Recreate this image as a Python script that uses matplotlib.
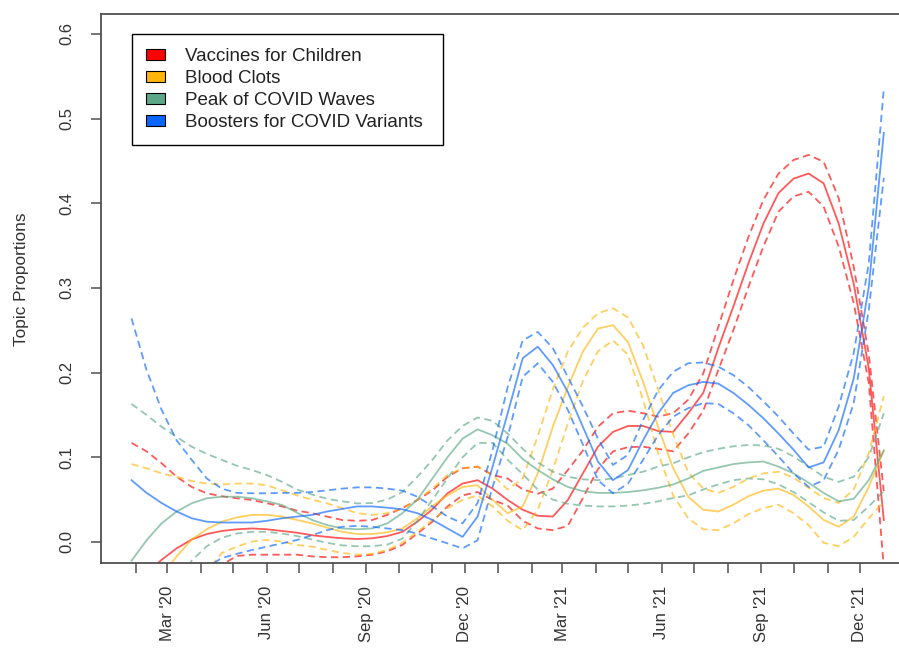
import matplotlib
matplotlib.use("Agg")
import matplotlib.pyplot as plt
import matplotlib.dates as mdates
from matplotlib.patches import Patch
import pandas as pd

plt.rcParams['font.family'] = ['Liberation Sans', 'DejaVu Sans']

# estimation dates (covariate grid)
dates = pd.date_range("2020-01-28", "2021-12-23", periods=51)

topic_names = ["Vaccines for Children", "Blood Clots",
               "Peak of COVID Waves", "Boosters for COVID Variants"]
topic_colors = ["#FF0000", "#FFB60A", "#5CA886", "#0A66FF"]

# Vaccines for Children
red_mean = [-0.055, -0.037, -0.021, -0.0075, 0.003, 0.0094, 0.013, 0.015, 0.016, 0.015,
            0.013, 0.011, 0.008, 0.006, 0.0044, 0.0035, 0.0044, 0.007, 0.012, 0.024,
            0.0386, 0.0575, 0.069, 0.073, 0.063, 0.0496, 0.038, 0.031, 0.030, 0.0496,
            0.081, 0.1125, 0.130, 0.137, 0.137, 0.131, 0.130, 0.152, 0.176, 0.229,
            0.278, 0.329, 0.376, 0.412, 0.429, 0.435, 0.4235, 0.376, 0.305, 0.205,
            0.026]
red_hi = [0.117, 0.107, 0.093, 0.077, 0.065, 0.0575, 0.054, 0.0516, 0.0496, 0.0457,
          0.042, 0.037, 0.034, 0.030, 0.026, 0.025, 0.026, 0.032, 0.040, 0.0496,
          0.061, 0.077, 0.087, 0.089, 0.079, 0.075, 0.062, 0.057, 0.063, 0.085,
          0.108, 0.136, 0.152, 0.155, 0.152, 0.148, 0.152, 0.168, 0.199, 0.254,
          0.309, 0.360, 0.404, 0.435, 0.451, 0.457, 0.449, 0.406, 0.325, 0.222,
          0.060]
red_lo = [-0.12, -0.09, -0.07, -0.055, -0.045, -0.035, -0.027, -0.0165, -0.015, -0.015,
          -0.015, -0.015, -0.017, -0.018, -0.018, -0.017, -0.015, -0.011, -0.0035, 0.010,
          0.024, 0.042, 0.055, 0.059, 0.0496, 0.043, 0.025, 0.016, 0.014, 0.019,
          0.052, 0.086, 0.107, 0.112, 0.1125, 0.110, 0.107, 0.128, 0.155, 0.203,
          0.250, 0.301, 0.349, 0.390, 0.408, 0.4135, 0.396, 0.349, 0.282, 0.188,
          -0.030]

# Blood Clots
orange_mean = [-0.10, -0.07, -0.04, -0.017, 0.003, 0.015, 0.024, 0.029, 0.032, 0.032,
               0.030, 0.026, 0.022, 0.017, 0.012, 0.0094, 0.0094, 0.0114, 0.016, 0.028,
               0.0425, 0.055, 0.065, 0.067, 0.0496, 0.034, 0.042, 0.081, 0.136, 0.183,
               0.225, 0.252, 0.256, 0.236, 0.189, 0.136, 0.087, 0.0535, 0.038, 0.036,
               0.044, 0.054, 0.0606, 0.063, 0.0555, 0.042, 0.026, 0.018, 0.030, 0.065,
               0.108]
orange_hi = [0.092, 0.087, 0.081, 0.077, 0.072, 0.069, 0.068, 0.069, 0.069, 0.067,
             0.061, 0.055, 0.050, 0.0457, 0.040, 0.034, 0.032, 0.034, 0.040, 0.0496,
             0.063, 0.079, 0.087, 0.089, 0.079, 0.062, 0.075, 0.125, 0.180, 0.225,
             0.253, 0.270, 0.276, 0.265, 0.232, 0.180, 0.127, 0.082, 0.063, 0.058,
             0.065, 0.075, 0.081, 0.083, 0.076, 0.064, 0.052, 0.046, 0.062, 0.105,
             0.172]
orange_lo = [-0.18, -0.14, -0.11, -0.08, -0.055, -0.035, -0.013, -0.0055, 0.0004, 0.0024,
             0.0004, -0.0035, -0.0055, -0.0094, -0.013, -0.015, -0.014, -0.0094, -0.001, 0.012,
             0.026, 0.040, 0.0496, 0.055, 0.042, 0.025, 0.014, 0.038, 0.085, 0.140,
             0.190, 0.225, 0.238, 0.221, 0.168, 0.105, 0.055, 0.028, 0.015, 0.014,
             0.022, 0.033, 0.040, 0.044, 0.034, 0.020, -0.001, -0.005, 0.006, 0.028,
             0.048]

# Peak of COVID Waves
green_mean = [-0.022, 0.002, 0.022, 0.036, 0.0457, 0.0516, 0.0535, 0.0535, 0.0516, 0.048,
              0.0437, 0.0346, 0.026, 0.020, 0.016, 0.015, 0.016, 0.022, 0.034, 0.050,
              0.075, 0.100, 0.122, 0.133, 0.126, 0.116, 0.098, 0.085, 0.074, 0.065,
              0.060, 0.058, 0.058, 0.059, 0.061, 0.064, 0.068, 0.075, 0.084, 0.088,
              0.092, 0.094, 0.095, 0.089, 0.081, 0.070, 0.058, 0.048, 0.051, 0.073,
              0.108]
green_hi = [0.163, 0.150, 0.136, 0.124, 0.1125, 0.104, 0.097, 0.090, 0.085, 0.079,
            0.071, 0.062, 0.056, 0.051, 0.048, 0.0455, 0.046, 0.050, 0.059, 0.077,
            0.097, 0.120, 0.137, 0.147, 0.143, 0.128, 0.110, 0.094, 0.083, 0.077,
            0.074, 0.073, 0.075, 0.079, 0.083, 0.089, 0.093, 0.100, 0.106, 0.110,
            0.113, 0.1145, 0.114, 0.110, 0.101, 0.089, 0.077, 0.071, 0.077, 0.100,
            0.152]
green_lo = [-0.21, -0.146, -0.092, -0.052, -0.022, -0.005, 0.005, 0.010, 0.012, 0.012,
            0.010, 0.007, 0.003, -0.001, -0.004, -0.005, -0.005, -0.003, 0.004, 0.025,
            0.050, 0.075, 0.100, 0.117, 0.117, 0.097, 0.080, 0.062, 0.050, 0.045,
            0.043, 0.042, 0.042, 0.043, 0.045, 0.048, 0.052, 0.055, 0.062, 0.068,
            0.073, 0.075, 0.074, 0.068, 0.059, 0.047, 0.035, 0.025, 0.026, 0.042,
            0.060]

# Boosters for COVID Variants
blue_mean = [0.073, 0.058, 0.046, 0.036, 0.028, 0.024, 0.023, 0.023, 0.023, 0.025,
             0.028, 0.030, 0.032, 0.036, 0.039, 0.042, 0.042, 0.0405, 0.0386, 0.034,
             0.026, 0.016, 0.006, 0.030, 0.089, 0.152, 0.217, 0.2306, 0.209, 0.177,
             0.136, 0.095, 0.073, 0.085, 0.120, 0.152, 0.176, 0.185, 0.189, 0.187,
             0.176, 0.162, 0.146, 0.128, 0.109, 0.088, 0.094, 0.132, 0.193, 0.301,
             0.483]
blue_hi = [0.264, 0.203, 0.156, 0.120, 0.097, 0.075, 0.063, 0.058, 0.0575, 0.0575,
           0.058, 0.058, 0.059, 0.061, 0.063, 0.0645, 0.0645, 0.063, 0.0606, 0.0535,
           0.042, 0.030, 0.022, 0.046, 0.109, 0.183, 0.238, 0.248, 0.229, 0.195,
           0.160, 0.122, 0.091, 0.103, 0.144, 0.179, 0.201, 0.211, 0.212, 0.207,
           0.197, 0.183, 0.166, 0.148, 0.128, 0.109, 0.1125, 0.160, 0.223, 0.329,
           0.535]
blue_lo = [-0.118, -0.087, -0.064, -0.048, -0.040, -0.030, -0.019, -0.014, -0.0095, -0.0055,
           -0.0016, 0.0024, 0.008, 0.014, 0.018, 0.019, 0.018, 0.016, 0.014, 0.010,
           0.004, -0.0016, -0.0075, 0.002, 0.065, 0.124, 0.195, 0.211, 0.189, 0.156,
           0.115, 0.073, 0.0575, 0.069, 0.097, 0.126, 0.148, 0.158, 0.164, 0.163,
           0.152, 0.138, 0.120, 0.101, 0.081, 0.065, 0.073, 0.109, 0.164, 0.274,
           0.430]

month_ticks = pd.date_range("2020-02-01", "2021-12-01", freq="MS")
y_ticks = [0.0, 0.1, 0.2, 0.3, 0.4, 0.5, 0.6]

series = [
    (red_mean, red_lo, red_hi),
    (orange_mean, orange_lo, orange_hi),
    (green_mean, green_lo, green_hi),
    (blue_mean, blue_lo, blue_hi),
]

fig = plt.figure(figsize=(8.99, 6.51), dpi=100)
# right edge of the box falls just outside the picture, as in the original
ax = fig.add_axes([0.11235, 0.13518, 0.90434, 0.84332])

for (mean, lo, hi), col in zip(series, topic_colors):
    ax.plot(dates, mean, color=col, lw=1.3, alpha=0.65)
    ax.plot(dates, lo, color=col, lw=1.3, alpha=0.65, ls=(0, (4, 2.5)))
    ax.plot(dates, hi, color=col, lw=1.3, alpha=0.65, ls=(0, (4, 2.5)))

x0 = mdates.date2num(pd.Timestamp("2020-03-01"))
ax.set_xlim(x0 - 61.2, x0 + 689.9)
ax.set_ylim(-0.0248, 0.6234)

ax.set_yticks(y_ticks)
ax.set_yticklabels([f"{v:.1f}" for v in y_ticks], rotation=90, va="center", ha="right")
ax.set_xticks(month_ticks)
ax.set_xticklabels([d.strftime("%b '%y") if d.month in (3, 6, 9, 12) else ""
                    for d in month_ticks], rotation=90, ha="center", va="top")

ax.tick_params(axis="both", length=7.5, width=1.1, color="#505050",
               labelcolor="#333333", labelsize=12)
ax.tick_params(axis="y", pad=12)
ax.tick_params(axis="x", pad=9)
for sp in ax.spines.values():
    sp.set_color("#505050")
    sp.set_linewidth(1.3)

fig.text(22 / 899, 1 - 279 / 651, "Topic Proportions", rotation=90,
         va="center", ha="center", fontsize=12.4, color="#333333")

handles = [Patch(facecolor=c, edgecolor="black", lw=0.8) for c in topic_colors]
leg = ax.legend(handles, topic_names, loc="upper left",
                bbox_to_anchor=(0.0381, 0.9636 - 0.5, 311 / 813, 0.5), mode="expand",
                fontsize=13.5, frameon=True, fancybox=False, edgecolor="black",
                framealpha=1, borderaxespad=0, handlelength=1.0, handleheight=0.55,
                handletextpad=1.1, labelspacing=0.27, borderpad=0.75)
leg.get_frame().set_linewidth(1.0)
for t in leg.get_texts():
    t.set_color("#222222")

fig.savefig("out.png", dpi=100)
